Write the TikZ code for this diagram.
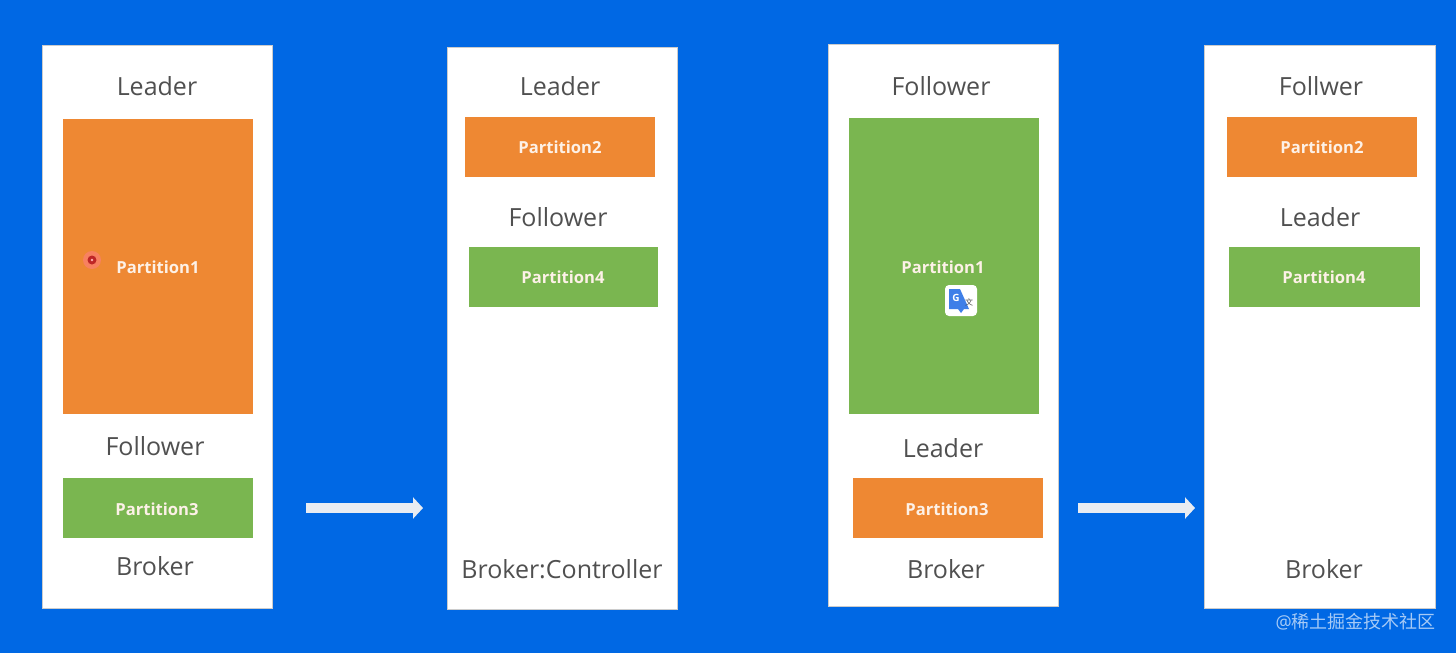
\documentclass[tikz,border=0pt]{standalone}
\usepackage{fontspec}
\setmainfont{Open Sans}
\newfontfamily\cjk{Noto Sans CJK SC}
\usetikzlibrary{arrows.meta}
\definecolor{bg}{HTML}{0068E4}
\definecolor{org}{HTML}{EE8833}
\definecolor{grn}{HTML}{7AB650}
\definecolor{txt}{HTML}{505050}
\definecolor{arr}{HTML}{E8ECF2}
\definecolor{gblue}{HTML}{3F7FE8}
\tikzset{x=1pt,y=-1pt,
 panel/.style={draw=black!20,line width=.6pt,fill=white,anchor=north west,inner sep=0pt},
 lab/.style={text=txt,font=\fontsize{25}{30}\selectfont,inner sep=0pt},
 part/.style={text=white!88!org,font=\bfseries\fontsize{16.6}{20}\selectfont,inner sep=0pt},
 orange/.style={fill=org},green/.style={fill=grn},
 flow/.style={arr,line width=10pt,-{Triangle[length=10pt,width=21pt]}}}
\newcommand{\panel}[5]{\node[panel,minimum width=#3pt,minimum height=#4pt] (#5) at (#1,#2) {};}
\begin{document}
\begin{tikzpicture}
\useasboundingbox (0,0) rectangle (1456,653);
\fill[bg] (0,0) rectangle (1456,653);
\panel{42}{45}{230}{563}{b1}
\panel{447}{46.5}{230}{562.5}{b2}
\panel{828}{44}{230}{562}{b3}
\panel{1204}{45}{231}{563}{b4}
\node[lab] (l1) at (157,86) {Leader};
\path[orange] (63,119) rectangle (253,414);
\node[part] (p1) at (158,267) {Partition1};
\node[lab] (f1) at (155,446) {Follower};
\path[green] (63,478) rectangle (253,538);
\node[part] (p3) at (157,509) {Partition3};
\node[lab] (k1) at (155,566) {Broker};
\fill[red!45!org!70!white] (92,260) circle (9);
\fill[red!70!black!85!white] (92,260) circle (4.5);
\fill[white!70!red] (92,260) circle (1.3);
\node[lab] (l2) at (560,86) {Leader};
\path[orange] (465,117) rectangle (655,177);
\node[part] (p2) at (560,147) {Partition2};
\node[lab] (f2) at (558,217) {Follower};
\path[green] (469,247) rectangle (658,307);
\node[part] (p4) at (563,277) {Partition4};
\node[lab] (k2) at (562,569) {Broker:Controller};
\node[lab] (f3) at (941,86) {Follower};
\path[green] (849,118) rectangle (1039,414);
\node[part] (p1b) at (943,267) {Partition1};
\node[lab] (l3) at (943,448) {Leader};
\path[orange] (853,478) rectangle (1043,538);
\node[part] (p3b) at (947,509) {Partition3};
\node[lab] (k3) at (946,569) {Broker};
\fill[white,rounded corners=4pt] (945,285) rectangle (977,316);
\fill[gblue] (949,289) -- (960,289) -- (969,309) -- (964,309) -- (961,313) -- (958,309) -- (949,309) -- cycle;
\node[text=white,font=\bfseries\fontsize{10}{10}\selectfont,inner sep=0pt] (gg) at (956,298) {G};
\node[text=txt,font=\cjk\fontsize{8}{8}\selectfont,inner sep=0pt] (gx) at (969,302) {文};
\node[lab] (f4) at (1321,86) {Follwer};
\path[orange] (1227,117) rectangle (1417,177);
\node[part] (p2b) at (1322,147) {Partition2};
\node[lab] (l4) at (1320,217) {Leader};
\path[green] (1229,247) rectangle (1420,307);
\node[part] (p4b) at (1324,277) {Partition4};
\node[lab] (k4) at (1324,569) {Broker};
\coordinate (a1s) at (306,508);\coordinate (a1e) at (423,508);
\coordinate (a2s) at (1078,508);\coordinate (a2e) at (1195,508);
\draw[flow] (a1s) -- (a1e);
\draw[flow] (a2s) -- (a2e);
\node[text=white!65!bg,font=\fontsize{18}{20}\selectfont,inner sep=0pt,anchor=east] (wm) at (1436,622) {@\cjk 稀土掘金技术社区};
\end{tikzpicture}
\end{document}
